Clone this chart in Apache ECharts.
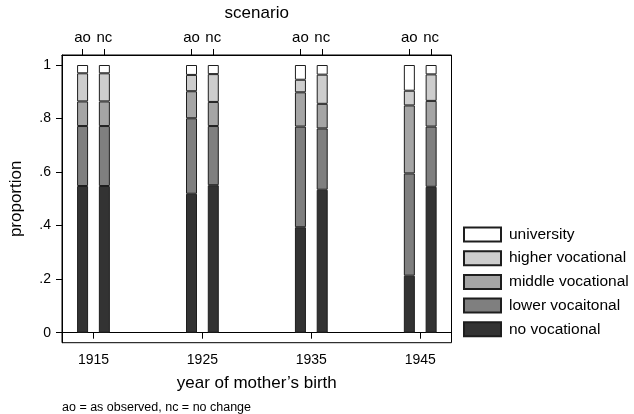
<!DOCTYPE html>
<html>
<head>
<meta charset="utf-8">
<script src="https://cdn.jsdelivr.net/npm/echarts@6/dist/echarts.min.js"></script>
<style>
html,body{margin:0;padding:0;background:#fff;}
#c{width:634px;height:414px;}
</style>
</head>
<body>
<div id="c"></div>
<script>
// ---- data ----
var cohorts = [1915, 1925, 1935, 1945];
var scenarios = ['ao', 'nc'];
var scenarioOffset = [-1, 1];           // years offset of each scenario bar around cohort
var categoriesLegend = ['university', 'higher vocational', 'middle vocational', 'lower vocaitonal', 'no vocational'];
var yTicks = [0, 0.2, 0.4, 0.6, 0.8, 1];
var yTickLabels = ['0', '.2', '.4', '.6', '.8', '1'];
// values per bar in order: 1915 ao, 1915 nc, 1925 ao, 1925 nc, 1935 ao, 1935 nc, 1945 ao, 1945 nc
var noVocational     = [0.548, 0.548, 0.519, 0.551, 0.394, 0.534, 0.213, 0.545];
var lowerVocational  = [0.224, 0.224, 0.282, 0.221, 0.376, 0.229, 0.382, 0.225];
var middleVocational = [0.092, 0.092, 0.101, 0.090, 0.128, 0.092, 0.254, 0.096];
var higherVocational = [0.105, 0.105, 0.061, 0.104, 0.047, 0.109, 0.055, 0.099];
var university       = [0.031, 0.031, 0.037, 0.034, 0.055, 0.036, 0.096, 0.035];

// ---- build ----
var positions = [], posLabel = {};
cohorts.forEach(function (c) {
  scenarios.forEach(function (s, j) {
    var p = c + scenarioOffset[j];
    positions.push(p);
    posLabel[p] = s;
  });
});
// value first, position second (so stacking is applied on the value dimension)
function pairs(arr) { return arr.map(function (v, i) { return [v, positions[i]]; }); }

var FONT = 'Liberation Sans, Arial, Helvetica, sans-serif';
var XMIN = 1912.11, XMAX = 1947.87;
var border = '#1e1e1e';

var seriesDefs = [
  ['no vocational', noVocational, '#333333'],
  ['lower vocaitonal', lowerVocational, '#7f7f7f'],
  ['middle vocational', middleVocational, '#a5a5a5'],
  ['higher vocational', higherVocational, '#cdcdcd'],
  ['university', university, '#ffffff']
];

var chart = echarts.init(document.getElementById('c'), null, {renderer: 'canvas'});
chart.setOption({
  animation: false,
  backgroundColor: '#fff',
  textStyle: {fontFamily: FONT},
  grid: {left: 59, top: 55, width: 392.5, height: 287.7, show: true, borderColor: '#000', borderWidth: 1, backgroundColor: 'transparent'},
  legend: {
    data: categoriesLegend,
    orient: 'vertical',
    left: 463, top: 226.5,
    itemWidth: 37, itemHeight: 14, itemGap: 7.7,
    padding: 0,
    icon: 'rect',
    selectedMode: false,
    textStyle: {fontFamily: FONT, fontSize: 15.5, color: '#000', lineHeight: 14, padding: [0, 0, 0, 3]}
  },
  xAxis: [
    {
      type: 'value', position: 'bottom', min: XMIN, max: XMAX,
      name: 'year of mother\u2019s birth', nameLocation: 'middle', nameGap: 32,
      nameTextStyle: {fontFamily: FONT, fontSize: 17, color: '#000'},
      axisLine: {show: true, lineStyle: {color: '#000', width: 1}},
      axisTick: {show: true, length: 6, lineStyle: {color: '#000'}, customValues: cohorts},
      axisLabel: {show: true, margin: 10, fontSize: 14, color: '#000', fontFamily: FONT, customValues: cohorts,
        formatter: function (v) { return String(Math.round(v)); }},
      splitLine: {show: false}
    },
    {
      type: 'value', position: 'top', min: XMIN, max: XMAX,
      name: 'scenario', nameLocation: 'middle', nameGap: 33,
      nameTextStyle: {fontFamily: FONT, fontSize: 17, color: '#000'},
      axisLine: {show: true, lineStyle: {color: '#000', width: 1}},
      axisTick: {show: true, length: 6, lineStyle: {color: '#000'}, customValues: positions},
      axisLabel: {show: true, margin: 10, fontSize: 15, color: '#000', fontFamily: FONT, customValues: positions,
        formatter: function (v) { return posLabel[Math.round(v)] || ''; }},
      splitLine: {show: false}
    }
  ],
  yAxis: {
    type: 'value', min: -0.0374, max: 1.0374,
    name: 'proportion', nameLocation: 'middle', nameGap: 37,
    nameTextStyle: {fontFamily: FONT, fontSize: 17, color: '#000'},
    axisLine: {show: true, lineStyle: {color: '#000', width: 1}},
    axisTick: {show: true, length: 6, lineStyle: {color: '#000'}, customValues: yTicks},
    axisLabel: {show: true, margin: 11, fontSize: 14, color: '#000', fontFamily: FONT, customValues: yTicks,
      formatter: function (v) {
        for (var i = 0; i < yTicks.length; i++) if (Math.abs(yTicks[i] - v) < 1e-6) return yTickLabels[i];
        return '';
      }},
    splitLine: {show: false}
  },
  graphic: [{
    type: 'text', left: 62, top: 401,
    style: {text: 'ao = as observed, nc = no change', font: '12.5px ' + FONT, fill: '#000'}
  }],
  series: seriesDefs.map(function (d) {
    return {
      type: 'bar', name: d[0], stack: 'edu', xAxisIndex: 0,
      data: pairs(d[1]), encode: {x: 1, y: 0}, barWidth: 11,
      itemStyle: {color: d[2], borderColor: border, borderWidth: 1},
      emphasis: {disabled: true}
    };
  })
});
</script>
</body>
</html>
